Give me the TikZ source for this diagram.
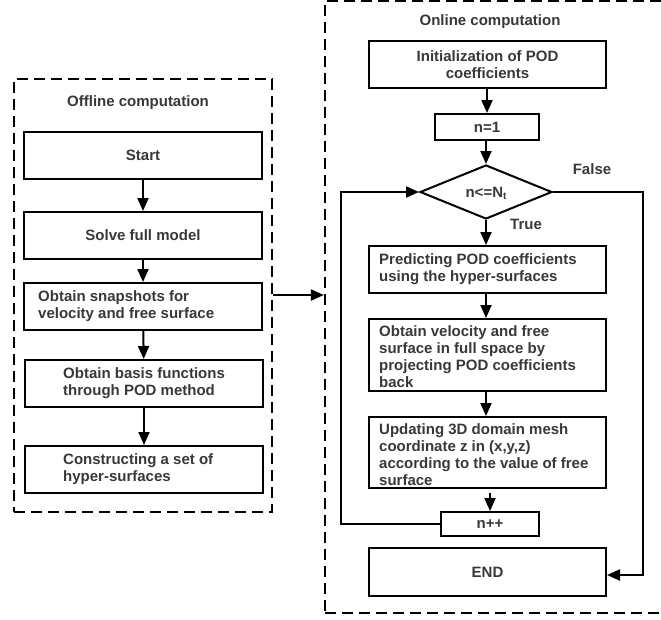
\documentclass[tikz,border=0pt]{standalone}
\usepackage{fontspec}
\setmainfont{Liberation Sans}
\usetikzlibrary{arrows.meta,shapes.geometric}
\definecolor{txt}{HTML}{383838}
\tikzset{
  box/.style={draw, line width=2pt, inner sep=0pt, minimum width=238pt, minimum height=47pt, text=txt, font=\bfseries\fontsize{15}{17}\selectfont, align=center},
  smallbox/.style={box, minimum width=104pt, minimum height=26pt},
  txtl/.style={anchor=west, inner sep=0pt, text=txt, font=\bfseries\fontsize{15}{17}\selectfont, align=left},
  lab/.style={inner sep=0pt, text=txt, font=\bfseries\fontsize{15}{17}\selectfont},
  dbox/.style={draw, line width=2.2pt, dash pattern=on 11pt off 6pt, inner sep=0pt},
  arr/.style={line width=2pt, -{Triangle[length=13pt,width=11pt]}},
}
\begin{document}
\begin{tikzpicture}[x=1pt,y=-1pt]
\useasboundingbox (0,0) rectangle (661,619);
% containers
\node[dbox, minimum width=258pt, minimum height=433pt] (off) at (143,295.5) {};
\node[dbox, minimum width=355pt, minimum height=612pt] (on) at (502.5,307) {};
\node[lab] (offt) at (138,103) {Offline computation};
\node[lab] (ont) at (490,22) {Online computation};
% offline boxes
\node[box] (start) at (143,155.5) {Start};
\node[box] (solve) at (143,235.5) {Solve full model};
\node[box] (snap) at (143,306.5) {};
\node[txtl] (snapt) at ([xshift=15pt]snap.west) {Obtain snapshots for\\velocity and free surface};
\node[box] (basis) at (144,383.5) {};
\node[txtl] (basist) at ([xshift=39pt]basis.west) {Obtain basis functions\\through POD method};
\node[box] (cons) at (144,469.5) {};
\node[txtl] (const) at ([xshift=39pt]cons.west) {Constructing a set of\\hyper-surfaces};
\draw[arr] (start) -- (solve);
\draw[arr] (solve) -- (snap);
\draw[arr] (snap) -- (basis);
\draw[arr] (basis) -- (cons);
% link
\coordinate (ly) at (0,295);
\draw[arr] (off.east |- ly) -- (on.west |- ly);
% online boxes
\node[box, minimum width=237pt] (init) at (487.5,64.5) {Initialization of POD\\coefficients};
\node[smallbox] (n1) at (487,127) {n=1};
\node[draw, shape=diamond, line width=2pt, minimum width=132pt, minimum height=54pt, inner sep=0pt] (dec) at (486,192) {};
\node[lab] (dect) at (486,193) {n<=N{\fontsize{10}{10}\selectfont\raisebox{-2pt}{t}}};
\node[box, minimum width=237pt] (pred) at (487.5,269.5) {};
\node[txtl] (predt) at ([xshift=11pt]pred.west) {Predicting POD coefficients\\using the hyper-surfaces};
\node[box, minimum width=237pt, minimum height=72pt] (vel) at (487.5,355) {};
\node[txtl] (velt) at ([xshift=11pt,yshift=-2pt]vel.west) {Obtain velocity and free\\surface in full space by\\projecting POD coefficients\\back};
\node[box, minimum width=237pt, minimum height=71pt] (upd) at (487.5,452.5) {};
\node[txtl] (updt) at ([xshift=11pt,yshift=-2pt]upd.west) {Updating 3D domain mesh\\coordinate z in (x,y,z)\\according to the value of free\\surface};
\node[smallbox, minimum width=98pt, minimum height=24pt] (npp) at (490,524) {n++};
\node[box, minimum width=237pt, minimum height=48pt] (fin) at (487.5,572) {END};
\node[lab] (falset) at (592,169) {False};
\node[lab] (truet) at (526,224) {True};
\draw[arr] (init.south -| n1) -- (n1);
\draw[arr] (n1.south -| dec) -- (dec.north);
\draw[arr] (dec.south) -- (pred.north -| dec);
\draw[arr] (pred.south -| dec) -- (vel.north -| dec);
\draw[arr] (vel.south -| dec) -- (upd.north -| dec);
\draw[arr] ([yshift=-4pt]upd.south -| npp) -- (npp.north);
\coordinate (lx) at (341,0);
\coordinate (rx) at (643,0);
\draw[arr] (npp.west) -- (npp.west -| lx) -- (dec.west -| lx) -- (dec.west);
\coordinate (fy) at (0,575);
\draw[arr] (dec.east) -- (dec.east -| rx) -- (fy -| rx) -- (fin.east |- fy);
\end{tikzpicture}
\end{document}
